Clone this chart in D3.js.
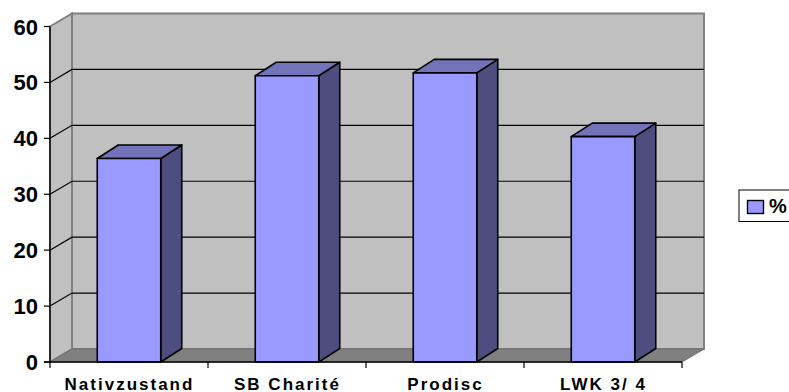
<!DOCTYPE html>
<html><head><meta charset="utf-8">
<script src="https://cdn.jsdelivr.net/npm/d3@7"></script>
<style>html,body{margin:0;padding:0;background:#fff;overflow:hidden}svg{display:block}text{font-family:"Liberation Sans",Arial,sans-serif;font-weight:bold;fill:#000}</style>
</head><body><svg id="c" width="789" height="392"></svg>
<script>
const categories=["Nativzustand","SB Charité","Prodisc","LWK 3/ 4"];
const values=[36.4,51.2,51.7,40.3];
const yTicks=[0,10,20,30,40,50,60];
const seriesName="%";
const svg=d3.select("#c");
const x=d3.scaleBand().domain(categories).range([50,682]);
const y=d3.scaleLinear().domain([0,60]).range([362,26.5]);
const dx=22,dy=-13,bw=63.5,bdx=21,bdy=-13.5;
const pts=a=>a.map(p=>p.join(",")).join(" ");
const x0=50,x1=682,y0=y(0),yT=y(60);
// walls
svg.append("polygon").attr("points",pts([[x0+dx,yT+dy],[x1+dx,yT+dy],[x1+dx,y0+dy],[x0+dx,y0+dy]])).attr("fill","#c0c0c0").attr("stroke","#808080").attr("stroke-width",2);
svg.append("polygon").attr("points",pts([[x0,yT],[x0+dx,yT+dy],[x0+dx,y0+dy],[x0,y0]])).attr("fill","#c0c0c0").attr("stroke","#808080").attr("stroke-width",2);
svg.append("polygon").attr("points",pts([[x0,y0],[x0+dx,y0+dy],[x1+dx,y0+dy],[x1,y0]])).attr("fill","#808080").attr("stroke","#6e6e6e").attr("stroke-width",1);
// gridlines
yTicks.filter(t=>t>0&&t<60).forEach(t=>{
 svg.append("polyline").attr("points",pts([[x0,y(t)],[x0+dx,y(t)+dy],[x1+dx,y(t)+dy]])).attr("fill","none").attr("stroke","#000").attr("stroke-width",1.2);
});
// bars
const bars=svg.append("g").selectAll("g").data(categories).join("g");
bars.each(function(c,i){
 const g=d3.select(this),l=x(c)+(x.bandwidth()-bw)/2,r=l+bw,t=y(values[i]);
 const st=s=>s.attr("stroke","#000").attr("stroke-width",1.6).attr("stroke-linejoin","round");
 st(g.append("polygon").attr("points",pts([[r,t],[r+bdx,t+bdy],[r+bdx,y0+bdy],[r,y0]])).attr("fill","#4d4d80"));
 st(g.append("polygon").attr("points",pts([[l,t],[l+bdx,t+bdy],[r+bdx,t+bdy],[r,t]])).attr("fill","#7373b9"));
 st(g.append("rect").attr("x",l).attr("y",t).attr("width",bw).attr("height",y0-t).attr("fill","#9999ff"));
});
// axes
svg.append("line").attr("x1",x0).attr("x2",x0).attr("y1",yT).attr("y2",y0).attr("stroke","#000").attr("stroke-width",1.4);
svg.append("line").attr("x1",x0-6).attr("x2",x1).attr("y1",y0).attr("y2",y0).attr("stroke","#000").attr("stroke-width",1.4);
yTicks.forEach(t=>{
 svg.append("line").attr("x1",x0-6).attr("x2",x0).attr("y1",y(t)).attr("y2",y(t)).attr("stroke","#000").attr("stroke-width",1.2);
 svg.append("text").attr("x",38).attr("y",y(t)+8).attr("text-anchor","end").attr("font-size",22).text(t);
});
[...categories.map(c=>x(c)),x1].forEach(v=>{
 svg.append("line").attr("x1",v).attr("x2",v).attr("y1",y0).attr("y2",y0+6).attr("stroke","#000").attr("stroke-width",1.2);
});
categories.forEach(c=>{
 svg.append("text").attr("x",x(c)+x.bandwidth()/2+0.5).attr("y",389.5).attr("text-anchor","middle").attr("font-size",17).attr("letter-spacing",2).text(c);
});
// legend
svg.append("rect").attr("x",739).attr("y",190).attr("width",60).attr("height",31.5).attr("fill","#fff").attr("stroke","#000").attr("stroke-width",1);
svg.append("rect").attr("x",747.5).attr("y",200.5).attr("width",16).attr("height",13).attr("fill","#9999ff").attr("stroke","#000").attr("stroke-width",1.4);
svg.append("text").attr("x",769).attr("y",213).attr("font-size",20).text(seriesName);
</script></body></html>
